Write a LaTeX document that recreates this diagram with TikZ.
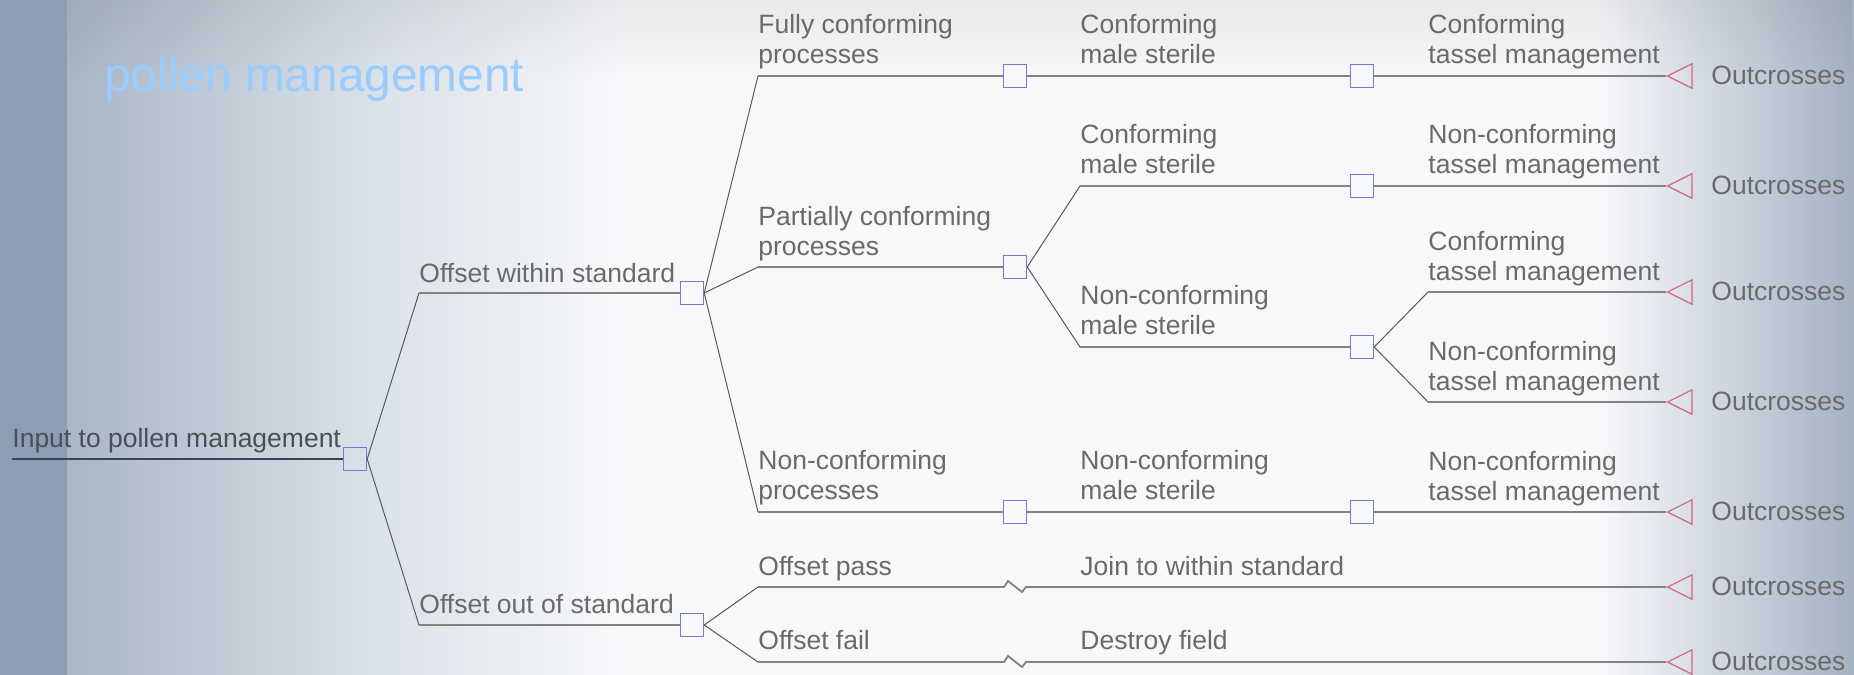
\documentclass[tikz,border=0pt]{standalone}
\usepackage{fontspec}
\setmainfont{Liberation Sans}
\usetikzlibrary{shapes.geometric,fadings}
\definecolor{txtc}{HTML}{6A6A6A}
\definecolor{intxt}{HTML}{4A4E58}
\definecolor{linec}{HTML}{828282}
\definecolor{inlinec}{HTML}{3A4356}
\definecolor{diagc}{HTML}{5A5A5A}
\definecolor{boxc}{HTML}{7F74D4}
\definecolor{termc}{HTML}{D2667A}
\definecolor{titlec}{HTML}{99CCFF}
\definecolor{bgw}{HTML}{F7F8FA}
\definecolor{bgl}{HTML}{8C9EB4}
\definecolor{bgl2}{HTML}{A8B6C6}
\definecolor{bgm}{HTML}{DCE2E9}
\definecolor{bgr}{HTML}{A4B1C2}
\newcommand{\mytwo}[2]{\begin{tabular}[b]{@{}l@{}}#1\\#2\end{tabular}}
\tikzset{
  dbox/.style={draw=boxc, line width=0.7pt, minimum size=11.5pt, inner sep=0pt},
  term/.style={draw=termc, line width=0.6pt, isosceles triangle, isosceles triangle stretches,
    shape border rotate=180, minimum height=12.25pt, minimum width=12.25pt, inner sep=0pt},
  lbl/.style={anchor=base west, inner sep=0pt, text=txtc, font=\fontsize{13.25}{15}\selectfont},
  hline/.style={draw=linec, line width=0.9pt},
  diag/.style={draw=diagc, line width=0.5pt},
}
\begin{document}
\begin{tikzpicture}[x=0.5pt,y=-0.5pt]
\useasboundingbox (0,0) rectangle (1854,675);
% background
\fill[bgw] (0,0) rectangle (1854,675);
\shade[left color=bgl2, right color=bgm] (67,0) rectangle (380,675);
\shade[left color=bgm, right color=bgw] (380,0) rectangle (620,675);
\shade[left color=bgw, right color=bgr] (1600,0) rectangle (1854,675);
\fill[black, opacity=0.06, path fading=south] (67,0) rectangle (1854,80);
\fill[bgl] (0,0) rectangle (67,675);
% title
\node[anchor=base west, inner sep=0pt, text=titlec, font=\fontsize{23.9}{28}\selectfont] (title) at (104,91) {pollen management};
% decision boxes
\node[dbox] (b0) at (355,459) {};
\node[dbox] (b1) at (692,293) {};
\node[dbox] (b2) at (692,625) {};
\node[dbox] (b3) at (1015,76) {};
\node[dbox] (b4) at (1015,267) {};
\node[dbox] (b5) at (1015,512) {};
\node[dbox] (b6) at (1362,76) {};
\node[dbox] (b7) at (1362,186) {};
\node[dbox] (b8) at (1362,347) {};
\node[dbox] (b9) at (1362,512) {};
% terminals
\node[term, anchor=apex] (t1) at (1666,76) {};
\node[term, anchor=apex] (t2) at (1666,186) {};
\node[term, anchor=apex] (t3) at (1666,292) {};
\node[term, anchor=apex] (t4) at (1666,402) {};
\node[term, anchor=apex] (t5) at (1666,512) {};
\node[term, anchor=apex] (t6) at (1666,587) {};
\node[term, anchor=apex] (t7) at (1666,662) {};
% corner coordinates
\coordinate (in) at (12,459);
\coordinate (c1) at (419,293);
\coordinate (c2) at (419,625);
\coordinate (c3) at (758,76);
\coordinate (c4) at (758,267);
\coordinate (c5) at (758,512);
\coordinate (c6) at (758,587);
\coordinate (c7) at (758,662);
\coordinate (c8) at (1080,186);
\coordinate (c9) at (1080,347);
\coordinate (c10) at (1428,292);
\coordinate (c11) at (1428,402);
\coordinate (z1) at (1004,587);
\coordinate (z2) at (1004,662);
% connectors
\draw[draw=inlinec, line width=0.9pt] (in) -- (b0.west);
\draw[diag] (b0.east) -- (c1);
\draw[diag] (b0.east) -- (c2);
\draw[hline] (c1) -- (b1.west);
\draw[hline] (c2) -- (b2.west);
\draw[diag] (b1.east) -- (c3);
\draw[diag] (b1.east) -- (c4);
\draw[diag] (b1.east) -- (c5);
\draw[hline] (c3) -- (b3.west);
\draw[hline] (c4) -- (b4.west);
\draw[hline] (c5) -- (b5.west);
\draw[diag] (b2.east) -- (c6);
\draw[diag] (b2.east) -- (c7);
\draw[hline] (c6) -- (z1) -- ++(4,-6) -- ++(14,11) -- ++(4,-5) -- (t6.apex);
\draw[hline] (c7) -- (z2) -- ++(4,-6) -- ++(14,11) -- ++(4,-5) -- (t7.apex);
\draw[hline] (b3.east) -- (b6.west);
\draw[diag] (b4.east) -- (c8);
\draw[diag] (b4.east) -- (c9);
\draw[hline] (c8) -- (b7.west);
\draw[hline] (c9) -- (b8.west);
\draw[hline] (b5.east) -- (b9.west);
\draw[hline] (b6.east) -- (t1.apex);
\draw[hline] (b7.east) -- (t2.apex);
\draw[diag] (b8.east) -- (c10);
\draw[diag] (b8.east) -- (c11);
\draw[hline] (c10) -- (t3.apex);
\draw[hline] (c11) -- (t4.apex);
\draw[hline] (b9.east) -- (t5.apex);
% labels
\node[lbl, text=intxt] (lin) at (12,447) {Input to pollen management};
\node[lbl] (l1) at (419,282) {Offset within standard};
\node[lbl] (l2) at (419,613) {Offset out of standard};
\node[lbl] (l3) at (758,63) {\mytwo{Fully conforming}{processes}};
\node[lbl] (l4) at (758,255) {\mytwo{Partially conforming}{processes}};
\node[lbl] (l5) at (758,499) {\mytwo{Non-conforming}{processes}};
\node[lbl] (l6) at (758,575) {Offset pass};
\node[lbl] (l7) at (758,649) {Offset fail};
\node[lbl] (l8) at (1080,63) {\mytwo{Conforming}{male sterile}};
\node[lbl] (l9) at (1080,173) {\mytwo{Conforming}{male sterile}};
\node[lbl] (l10) at (1080,334) {\mytwo{Non-conforming}{male sterile}};
\node[lbl] (l11) at (1080,499) {\mytwo{Non-conforming}{male sterile}};
\node[lbl] (l12) at (1080,575) {Join to within standard};
\node[lbl] (l13) at (1080,649) {Destroy field};
\node[lbl] (l14) at (1428,63) {\mytwo{Conforming}{tassel management}};
\node[lbl] (l15) at (1428,173) {\mytwo{Non-conforming}{tassel management}};
\node[lbl] (l16) at (1428,280) {\mytwo{Conforming}{tassel management}};
\node[lbl] (l17) at (1428,390) {\mytwo{Non-conforming}{tassel management}};
\node[lbl] (l18) at (1428,500) {\mytwo{Non-conforming}{tassel management}};
\node[lbl] (o1) at (1711,84) {Outcrosses};
\node[lbl] (o2) at (1711,194) {Outcrosses};
\node[lbl] (o3) at (1711,300) {Outcrosses};
\node[lbl] (o4) at (1711,410) {Outcrosses};
\node[lbl] (o5) at (1711,520) {Outcrosses};
\node[lbl] (o6) at (1711,595) {Outcrosses};
\node[lbl] (o7) at (1711,670) {Outcrosses};
\end{tikzpicture}
\end{document}
